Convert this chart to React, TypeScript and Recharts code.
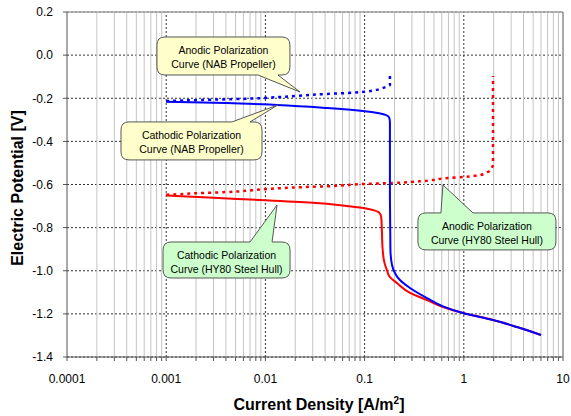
import React from "react";
import {
  LineChart,
  Line,
  XAxis,
  YAxis,
  CartesianGrid,
  ReferenceLine,
  ReferenceDot,
} from "recharts";

// Cathodic polarization curve, NAB propeller (blue solid)
const cathodicNabX = [0.001, 0.004, 0.0131, 0.042, 0.096, 0.14, 0.165, 0.176, 0.18, 0.18, 0.182, 0.189, 0.202, 0.227, 0.287, 0.426, 0.617, 0.98, 1.97, 3.44, 6.0];
const cathodicNabY = [-0.216, -0.222, -0.231, -0.245, -0.259, -0.27, -0.278, -0.288, -0.31, -0.6, -0.9, -0.973, -1.01, -1.043, -1.08, -1.127, -1.165, -1.196, -1.228, -1.261, -1.298];

// Anodic polarization curve, NAB propeller (blue dotted)
const anodicNabX = [0.001, 0.0022, 0.0059, 0.011, 0.022, 0.042, 0.077, 0.12, 0.143, 0.165, 0.18, 0.18];
const anodicNabY = [-0.213, -0.208, -0.203, -0.197, -0.188, -0.18, -0.174, -0.165, -0.157, -0.147, -0.138, -0.097];

// Cathodic polarization curve, HY80 steel hull (red solid)
const cathodicHyX = [0.001, 0.003, 0.01, 0.03, 0.06, 0.1, 0.125, 0.14, 0.147, 0.149, 0.152, 0.158, 0.167, 0.18, 0.212, 0.287, 0.426, 0.617, 0.98, 1.97, 3.44, 6.0];
const cathodicHyY = [-0.651, -0.662, -0.673, -0.685, -0.697, -0.71, -0.72, -0.73, -0.75, -0.8, -0.9, -0.96, -0.995, -1.03, -1.057, -1.103, -1.136, -1.168, -1.196, -1.228, -1.261, -1.298];

// Anodic polarization curve, HY80 steel hull (red dotted)
const anodicHyX = [0.001, 0.0015, 0.0021, 0.0041, 0.0104, 0.024, 0.048, 0.096, 0.193, 0.39, 0.69, 1.0, 1.46, 1.75, 1.92, 1.97, 1.97];
const anodicHyY = [-0.647, -0.644, -0.64, -0.635, -0.621, -0.612, -0.607, -0.598, -0.593, -0.584, -0.57, -0.565, -0.556, -0.542, -0.525, -0.5, -0.097];

const yTicks = [-1.4, -1.2, -1.0, -0.8, -0.6, -0.4, -0.2, 0.0, 0.2];
const yTickLabels = ["-1.4", "-1.2", "-1.0", "-0.8", "-0.6", "-0.4", "-0.2", "0.0", "0.2"];
const decades = [0.0001, 0.001, 0.01, 0.1, 1, 10];
const decadeLabels = ["0.0001", "0.001", "0.01", "0.1", "1", "10"];
const minorSteps = [2, 3, 4, 5, 6, 7, 8, 9];
const majorGridX = [0.001, 0.01, 0.1, 1];

const minorX = decades.slice(0, -1).flatMap((d) => minorSteps.map((m) => d * m));
const xTicks = [...decades, ...minorX].sort((a, b) => a - b);

const toPoints = (xs: number[], ys: number[]) => xs.map((x, i) => ({ x, y: ys[i] }));

const FONT = "'Liberation Sans', Arial, sans-serif";

type CalloutSpec = {
  x: number;
  y: number;
  box: [number, number, number, number]; // left, top, right, bottom relative to tip
  base: [number, number];
  side: "top" | "bottom";
  lines: string[];
  fill: string;
};

const callouts: CalloutSpec[] = [
  {
    x: 0.0223, y: -0.171,
    box: [-143, -55, -10, -17], base: [-42, -22], side: "bottom",
    lines: ["Anodic Polarization", "Curve (NAB Propeller)"], fill: "#FFFFCC",
  },
  {
    x: 0.0134, y: -0.231,
    box: [-157, 17, -16, 55], base: [-46, -28], side: "top",
    lines: ["Cathodic Polarization", "Curve (NAB Propeller)"], fill: "#FFFFCC",
  },
  {
    x: 0.0131, y: -0.695,
    box: [-114, 37, 13, 73], base: [-27, -5], side: "top",
    lines: ["Cathodic Polarization", "Curve (HY80 Steel Hull)"], fill: "#CCFFCC",
  },
  {
    x: 0.616, y: -0.602,
    box: [-25, 28, 113, 65], base: [-2, 30], side: "top",
    lines: ["Anodic Polarization", "Curve (HY80 Steel Hull)"], fill: "#CCFFCC",
  },
];

function Callout({ cx, cy, spec }: { cx?: number; cy?: number; spec: CalloutSpec }) {
  if (cx == null || cy == null) return null;
  const x0 = cx + spec.box[0];
  const y0 = cy + spec.box[1];
  const x1 = cx + spec.box[2];
  const y1 = cy + spec.box[3];
  const a = cx + spec.base[0];
  const b = cx + spec.base[1];
  const r = 8;
  let d: string;
  if (spec.side === "top") {
    d = `M${x0 + r},${y0} L${a},${y0} L${cx},${cy} L${b},${y0} L${x1 - r},${y0} Q${x1},${y0} ${x1},${y0 + r} L${x1},${y1 - r} Q${x1},${y1} ${x1 - r},${y1} L${x0 + r},${y1} Q${x0},${y1} ${x0},${y1 - r} L${x0},${y0 + r} Q${x0},${y0} ${x0 + r},${y0} Z`;
  } else {
    d = `M${x0 + r},${y0} L${x1 - r},${y0} Q${x1},${y0} ${x1},${y0 + r} L${x1},${y1 - r} Q${x1},${y1} ${x1 - r},${y1} L${b},${y1} L${cx},${cy} L${a},${y1} L${x0 + r},${y1} Q${x0},${y1} ${x0},${y1 - r} L${x0},${y0 + r} Q${x0},${y0} ${x0 + r},${y0} Z`;
  }
  const mx = (x0 + x1) / 2;
  return (
    <g>
      <path d={d} fill={spec.fill} stroke="#555" strokeWidth={1} />
      {spec.lines.map((t, i) => (
        <text key={i} x={mx} y={y0 + 17 + i * 14} textAnchor="middle" fontSize={10.5} fontFamily={FONT} fill="#000">
          {t}
        </text>
      ))}
    </g>
  );
}

function XTitle() {
  return (
    <text x={319} y={410} textAnchor="middle" fontSize={16} fontWeight="bold" fontFamily={FONT} fill="#000">
      Current Density [A/m
      <tspan dy={-6} fontSize={10}>2</tspan>
      <tspan dy={6}>]</tspan>
    </text>
  );
}

function YTitle() {
  return (
    <text transform="translate(23,188) rotate(-90)" textAnchor="middle" fontSize={16} fontWeight="bold" fontFamily={FONT} fill="#000">
      Electric Potential [V]
    </text>
  );
}

export default function App() {
  return (
    <div style={{ position: "absolute", left: 0, top: 0, background: "#fff" }}>
      <LineChart width={571} height={416} margin={{ top: 12, right: 8, left: 0, bottom: 0 }}>
        {minorX.map((v) => (
          <ReferenceLine key={`m${v}`} x={v} stroke="#C4C4C4" strokeWidth={1} />
        ))}
        <CartesianGrid vertical={false} stroke="#333" strokeDasharray="2 2" />
        {majorGridX.map((v) => (
          <ReferenceLine key={`g${v}`} x={v} stroke="#333" strokeDasharray="2 2" />
        ))}
        <ReferenceLine y={0.2} stroke="#A6A6A6" strokeWidth={1.5} />
        <ReferenceLine x={10} stroke="#555" strokeWidth={1} />
        <XAxis
          dataKey="x"
          type="number"
          scale="log"
          domain={[0.0001, 10]}
          ticks={xTicks}
          interval={0}
          tickFormatter={(v: number) => {
            const i = decades.findIndex((d) => Math.abs(d - v) / d < 1e-6);
            return i >= 0 ? decadeLabels[i] : "";
          }}
          height={59}
          tickSize={4}
          tickMargin={13}
          stroke="#555"
          tick={{ fontSize: 12, fontFamily: FONT, fill: "#000" }}
          label={<XTitle />}
        />
        <YAxis
          dataKey="y"
          type="number"
          domain={[-1.4, 0.2]}
          ticks={yTicks}
          interval={0}
          tickFormatter={(v: number) => {
            const i = yTicks.findIndex((t) => Math.abs(t - v) < 1e-6);
            return i >= 0 ? yTickLabels[i] : "";
          }}
          width={67}
          tickSize={4}
          tickMargin={10}
          stroke="#555"
          tick={{ fontSize: 12, fontFamily: FONT, fill: "#000" }}
          label={<YTitle />}
        />
        <Line data={toPoints(cathodicHyX, cathodicHyY)} dataKey="y" type="monotoneY" stroke="#FF0000" strokeWidth={2} dot={false} activeDot={false} isAnimationActive={false} />
        <Line data={toPoints(anodicHyX, anodicHyY)} dataKey="y" type="monotoneY" stroke="#FF0000" strokeWidth={2.5} strokeDasharray="3 4" dot={false} activeDot={false} isAnimationActive={false} />
        <Line data={toPoints(anodicNabX, anodicNabY)} dataKey="y" type="monotoneY" stroke="#0000FF" strokeWidth={2.5} strokeDasharray="3 4" dot={false} activeDot={false} isAnimationActive={false} />
        <Line data={toPoints(cathodicNabX, cathodicNabY)} dataKey="y" type="monotoneY" stroke="#0000FF" strokeWidth={2} dot={false} activeDot={false} isAnimationActive={false} />
        {callouts.map((c, i) => (
          <ReferenceDot
            key={`c${i}`}
            x={c.x}
            y={c.y}
            r={0}
            shape={(p: any) => <Callout cx={p.cx} cy={p.cy} spec={c} />}
          />
        ))}
      </LineChart>
    </div>
  );
}
